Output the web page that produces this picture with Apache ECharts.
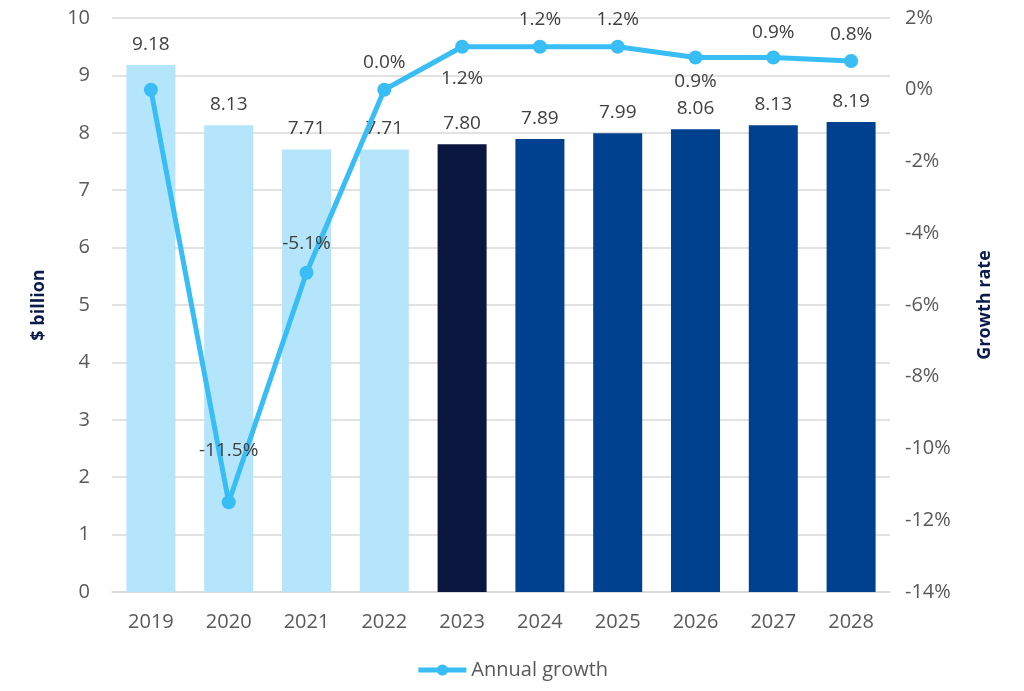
<!DOCTYPE html>
<html><head><meta charset="utf-8">
<script src="https://cdn.jsdelivr.net/npm/echarts@6/dist/echarts.min.js"></script>
<style>html,body{margin:0;padding:0;background:#fff}#c{width:1024px;height:691px}</style>
</head><body><div id="c"></div>
<script>
const years = ['2019','2020','2021','2022','2023','2024','2025','2026','2027','2028'];
const spending = [9.18, 8.13, 7.71, 7.71, 7.80, 7.89, 7.99, 8.06, 8.13, 8.19];
const growth = [0.0, -11.5, -5.1, 0.0, 1.2, 1.2, 1.2, 0.9, 0.9, 0.8];
const barColors = ['#b4e5fa','#b4e5fa','#b4e5fa','#b4e5fa','#0b1640','#00418f','#00418f','#00418f','#00418f','#00418f'];
const growthLabelPos = ['none','top','top','top','bottom','top','top','bottom','top','top'];
const growthLabelGap = [0, 35, 13, 11, 15, 11, 11, 8, 8, 10];

const chart = echarts.init(document.getElementById('c'));
const font = 'Open Sans, Noto Sans, sans-serif';
chart.setOption({
  animation: false,
  textStyle: {fontFamily: font},
  grid: {left: 112, right: 134, top: 18, bottom: 99},
  legend: {
    bottom: 6, left: 'center', data: ['Annual growth'],
    itemWidth: 48, itemHeight: 14, itemGap: 4,
    itemStyle: {color: '#38bdf5'},
    lineStyle: {width: 5},
    textStyle: {color: '#595959', fontSize: 20, fontFamily: font}
  },
  xAxis: {
    type: 'category', data: years,
    axisLine: {lineStyle: {color: '#d9d9d9', width: 1.5}},
    axisTick: {show: false},
    axisLabel: {color: '#595959', fontSize: 20, margin: 20}
  },
  yAxis: [{
    type: 'value', min: 0, max: 10, interval: 1,
    name: '$ billion', nameLocation: 'middle', nameGap: 64, nameRotate: 90,
    nameTextStyle: {color: '#0b1a4d', fontSize: 18, fontWeight: 'bold'},
    axisLine: {show: false}, axisTick: {show: false},
    axisLabel: {color: '#595959', fontSize: 20, margin: 22},
    splitLine: {lineStyle: {color: '#d9d9d9', width: 1.5}}
  }, {
    type: 'value', min: -14, max: 2, interval: 2, position: 'right',
    name: 'Growth rate', nameLocation: 'middle', nameGap: 86, nameRotate: 90,
    nameTextStyle: {color: '#0b1a4d', fontSize: 18, fontWeight: 'bold'},
    axisLine: {show: false}, axisTick: {show: false},
    axisLabel: {color: '#595959', fontSize: 20, margin: 15, formatter: '{value}%'},
    splitLine: {show: false}
  }],
  series: [{
    name: 'Spending', type: 'bar', yAxisIndex: 0, barWidth: '63%',
    data: spending.map((v, i) => ({value: v, itemStyle: {color: barColors[i]}})),
    label: {show: true, position: 'top', distance: 11, color: '#404040', fontSize: 19,
      formatter: p => p.value.toFixed(2)}
  }, {
    name: 'Annual growth', type: 'line', yAxisIndex: 1,
    symbol: 'circle', symbolSize: 14,
    lineStyle: {color: '#38bdf5', width: 5},
    itemStyle: {color: '#38bdf5'},
    data: growth.map((v, i) => ({
      value: v,
      label: growthLabelPos[i] === 'none' ? {show: false} :
        {show: true, position: growthLabelPos[i], distance: growthLabelGap[i]}
    })),
    label: {show: true, color: '#404040', fontSize: 19, formatter: p => p.value.toFixed(1) + '%'},
    z: 5
  }]
});
</script></body></html>
